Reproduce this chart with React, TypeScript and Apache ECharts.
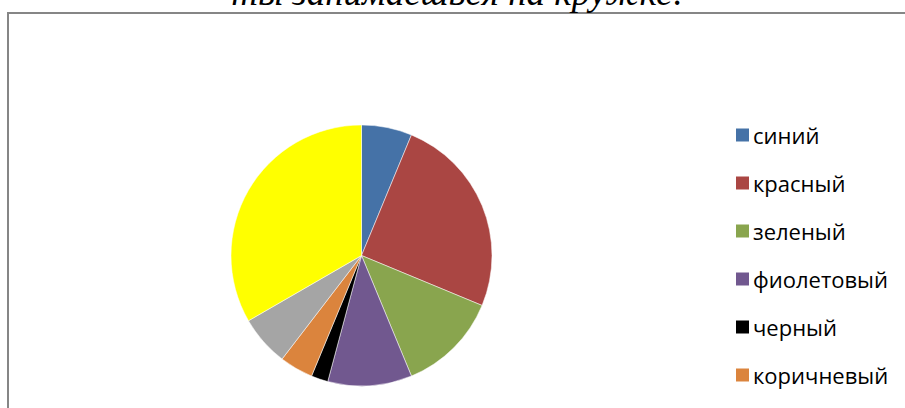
import React, { useEffect, useRef } from "react";
import * as echarts from "echarts";

const categories = ["синий", "красный", "зеленый", "фиолетовый", "черный", "коричневый", "серый", "желтый"];
const values = [3, 12, 6, 5, 1, 2, 3, 16];
const colors = ["#4572A7", "#AA4643", "#89A54E", "#71588F", "#000000", "#DB843D", "#A5A5A5", "#FFFF00"];
const titleText = "ты занимаешься на кружке:";

export default function App() {
  const ref = useRef<HTMLDivElement>(null);
  useEffect(() => {
    if (!ref.current) return;
    const chart = echarts.init(ref.current, undefined, { renderer: "svg" });
    chart.setOption({
      animation: false,
      backgroundColor: "#ffffff",
      color: colors,
      graphic: [
        {
          type: "rect",
          shape: { x: 8, y: 13, width: 1200, height: 1000 },
          style: { fill: "none", stroke: "#868686", lineWidth: 2 },
          silent: true,
        },
        {
          type: "text",
          x: 458,
          y: -8,
          style: {
            text: titleText,
            font: "italic 37px 'Liberation Serif', 'Times New Roman', serif",
            fill: "#000",
            align: "center",
            verticalAlign: "middle",
          },
          silent: true,
        },
      ],
      legend: {
        orient: "vertical",
        left: 729,
        top: 118,
        icon: "rect",
        itemWidth: 15,
        itemHeight: 15,
        itemGap: 24,
        selectedMode: false,
        textStyle: {
          fontFamily: "'Open Sans', sans-serif",
          fontSize: 22,
          lineHeight: 24,
          color: "#000",
          padding: [0, 0, 0, -2],
        },
        data: categories,
      },
      series: [
        {
          type: "pie",
          center: [361.5, 255.5],
          radius: 130.5,
          startAngle: 90,
          clockwise: true,
          label: { show: false },
          labelLine: { show: false },
          itemStyle: { borderColor: "#ffffff", borderWidth: 0.5 },
          emphasis: { disabled: true },
          data: categories.map((name, i) => ({ name, value: values[i] })),
        },
      ],
    });
    return () => chart.dispose();
  }, []);
  return (
    <div
      ref={ref}
      style={{ position: "fixed", left: 0, top: 0, width: 905, height: 408 }}
    />
  );
}
